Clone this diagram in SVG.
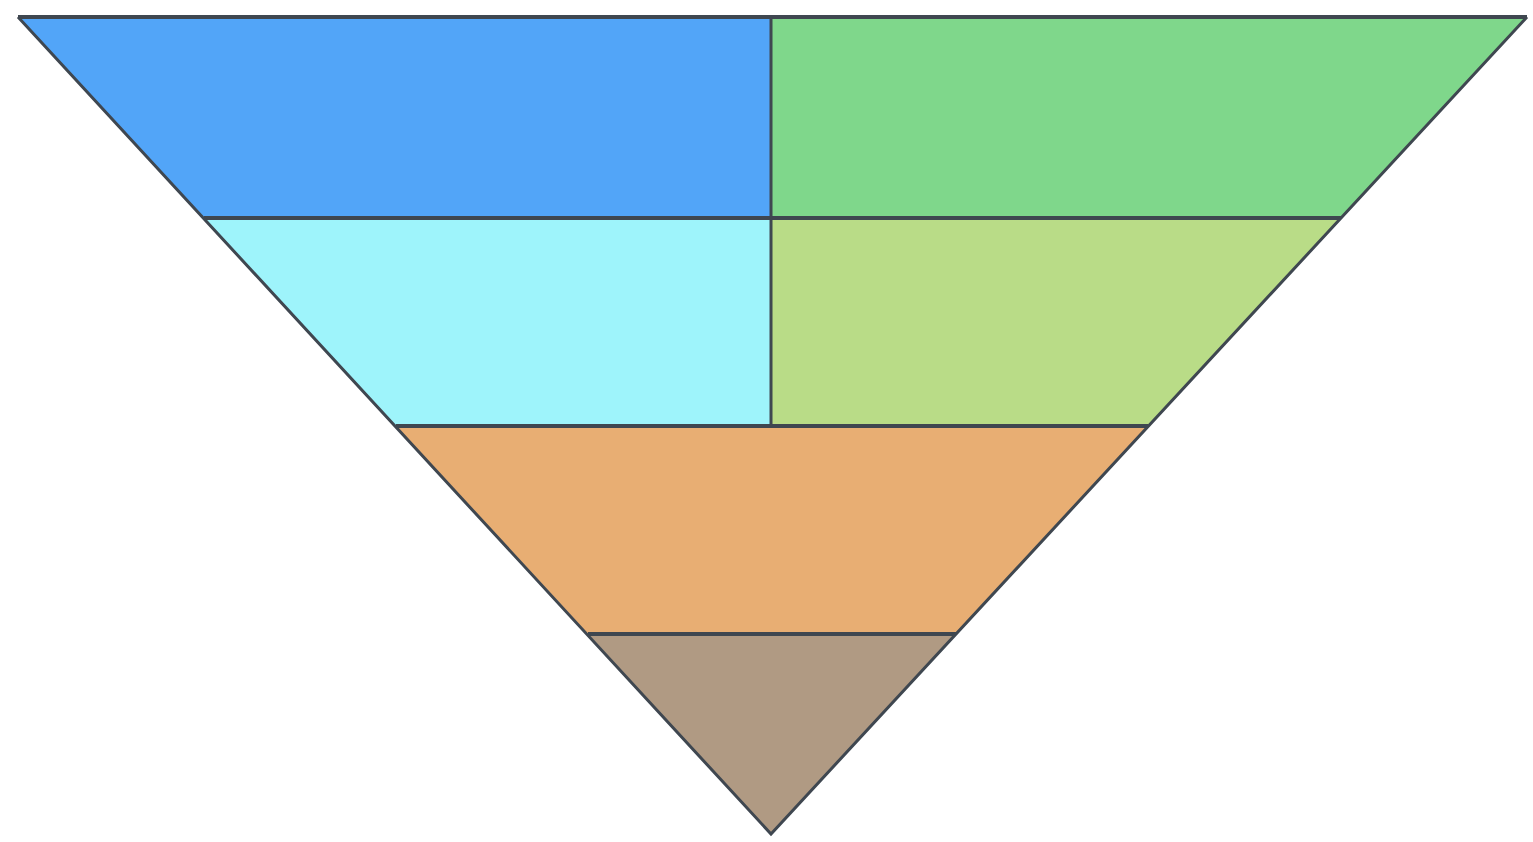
<svg xmlns="http://www.w3.org/2000/svg" width="1533" height="842" viewBox="0 0 1533 842">
<style>
.ln{stroke:#3f4750;stroke-width:4;fill:none;stroke-linecap:butt}
.sd{stroke:#3f4750;stroke-width:3;fill:none}
</style>
<rect width="1533" height="842" fill="#ffffff"/>
<g id="band1-left"><polygon points="18,17 771,17 771,218 204,218" fill="#52a5f8"/></g>
<g id="band1-right"><polygon points="771,17 1527,17 1341,218 771,218" fill="#7fd78b"/></g>
<g id="band2-left"><polygon points="204,218 771,218 771,426 396,426" fill="#9ef4fb"/></g>
<g id="band2-right"><polygon points="771,218 1341,218 1148,426 771,426" fill="#b9dc87"/></g>
<g id="band3"><polygon points="396,426 1148,426 956,634 588,634" fill="#e8ae73"/></g>
<g id="band4"><polygon points="588,634 956,634 771,834" fill="#b09a83"/></g>
<g id="connectors">
<line class="ln" x1="18" y1="17" x2="1527" y2="17" stroke-width="5"/>
<line class="ln" x1="204" y1="218" x2="1341" y2="218"/>
<line class="ln" x1="396" y1="426" x2="1148" y2="426"/>
<line class="ln" x1="588" y1="634" x2="956" y2="634"/>
<line class="sd" x1="771" y1="17" x2="771" y2="426"/>
<polyline class="sd" points="18,17 771,834 1527,17"/>
</g>
</svg>
